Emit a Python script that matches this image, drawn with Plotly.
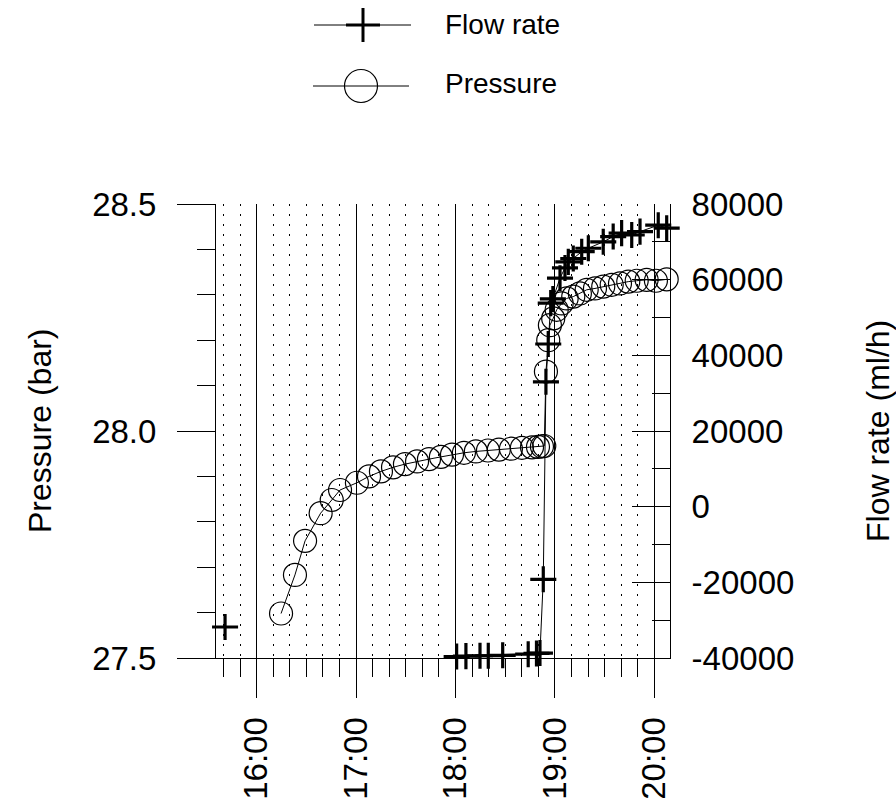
import plotly.graph_objects as go

DAY = "2020-01-01 "

# Flow rate (ml/h) readings; None marks a gap in the connecting line
flow_time = ["15:40:54", None,
             "18:00:42", "18:06:18", "18:14:48", "18:19:48", "18:28:30", "18:43:54",
             "18:48:54", "18:51:00", "18:53:00", "18:54:36", "18:56:00", "18:57:30",
             "18:58:48", "19:03:06", "19:06:06", "19:08:06", "19:11:06", "19:16:12",
             "19:20:12", "19:29:12", "19:35:12", "19:40:18", "19:46:24", "19:51:24",
             "20:02:24", "20:07:30"]
flow_value = [-31800, None,
              -39600, -39500, -39400, -39400, -39300, -39000,
              -38800, -38700, -19200, 33000, 43000, 53800,
              54900, 60400, 63100, 64700, 65600, 67400,
              68300, 70000, 71400, 72300, 71800, 72700,
              74400, 73600]

# Pressure (bar) readings
pressure_time = ["16:14:42", "16:23:06", "16:29:12", "16:38:36", "16:45:18", "16:50:18",
                 "17:00:30", "17:07:48", "17:15:00", "17:22:18", "17:29:30", "17:36:48",
                 "17:44:00", "17:51:12", "17:57:54", "18:05:06", "18:12:18", "18:19:36",
                 "18:26:12", "18:33:30", "18:40:06", "18:46:12", "18:49:48", "18:52:12",
                 "18:53:36", "18:54:36", "18:56:00", "18:57:00", "18:59:00", "19:01:06",
                 "19:04:06", "19:07:06", "19:11:06", "19:15:06", "19:19:12", "19:24:12",
                 "19:29:12", "19:34:18", "19:39:18", "19:44:18", "19:49:24", "19:55:24",
                 "20:01:00", "20:07:30"]
pressure_value = [27.598, 27.683, 27.758, 27.819, 27.848, 27.870,
                  27.886, 27.900, 27.911, 27.920, 27.927, 27.933,
                  27.938, 27.943, 27.948, 27.952, 27.955, 27.957,
                  27.959, 27.961, 27.963, 27.964, 27.965, 27.966,
                  27.967, 28.131, 28.200, 28.233, 28.248, 28.267,
                  28.281, 28.292, 28.296, 28.303, 28.311, 28.314,
                  28.318, 28.322, 28.325, 28.329, 28.331, 28.333,
                  28.331, 28.334]

pressure_ticks = [27.5, 28.0, 28.5]
pressure_ticktext = ["27.5", "28.0", "28.5"]
flow_ticks = [-40000, -20000, 0, 20000, 40000, 60000, 80000]
flow_ticktext = ["-40000", "-20000", "0", "20000", "40000", "60000", "80000"]

legend_labels = ["Flow rate", "Pressure"]

FONT = "Liberation Sans, Arial, sans-serif"
W, H = 896, 807
L, R, T, B = 216, 226, 204, 149
PW, PH = W - L - R, H - T - B


def px_x(px):
    return (px - L) / PW


def px_y(py):
    return (H - B - py) / PH


fig = go.Figure()

fig.add_trace(go.Scatter(
    x=[DAY + t for t in pressure_time], y=pressure_value,
    mode="lines+markers", name=legend_labels[1],
    line=dict(color="black", width=1),
    marker=dict(symbol="circle-open", size=23, color="black", line=dict(width=1.2, color="black")),
    cliponaxis=False,
))

fig.add_trace(go.Scatter(
    x=[DAY + t if t else None for t in flow_time], y=flow_value,
    mode="lines+markers", name=legend_labels[0], yaxis="y2",
    line=dict(color="black", width=1),
    marker=dict(symbol="cross-thin", size=18.6, color="black", line=dict(width=3.2, color="black")),
    connectgaps=False, cliponaxis=False,
))

fig.update_layout(
    width=W, height=H,
    margin=dict(l=L, r=R, t=T, b=B, pad=0, autoexpand=False),
    paper_bgcolor="white", plot_bgcolor="white",
    showlegend=False,
    font=dict(family=FONT, color="black", size=32),
    xaxis=dict(
        type="date", automargin=False,
        range=[DAY + "15:35:26", DAY + "20:09:30"],
        tickmode="linear", tick0=DAY + "00:00:00", dtick=3600000,
        tickformat="%H:%M", tickangle=-90,
        ticks="outside", ticklen=39, tickwidth=1, tickcolor="black",
        ticklabelstandoff=6,
        showgrid=True, gridcolor="black", gridwidth=1,
        showline=True, linecolor="black", linewidth=1, mirror=False,
        zeroline=False,
        tickfont=dict(size=33, family=FONT, color="black"),
        minor=dict(tick0=DAY + "00:00:00", dtick=600000, ticks="outside", ticklen=18,
                   tickwidth=1, tickcolor="black", showgrid=True, gridcolor="black",
                   gridwidth=1, griddash="2px,8px"),
    ),
    yaxis=dict(
        range=[27.5, 28.5], automargin=False,
        tickmode="array", tickvals=pressure_ticks, ticktext=pressure_ticktext,
        ticks="outside", ticklen=38, tickwidth=1, tickcolor="black",
        ticklabelstandoff=14,
        showgrid=False, showline=True, linecolor="black", linewidth=1, zeroline=False,
        tickfont=dict(size=33, family=FONT, color="black"),
        minor=dict(tick0=27.5, dtick=0.1, ticks="outside", ticklen=18, tickwidth=1,
                   tickcolor="black", showgrid=False),
    ),
    yaxis2=dict(
        overlaying="y", side="right", anchor="x", automargin=False,
        range=[-40000, 80000],
        tickmode="array", tickvals=flow_ticks, ticktext=flow_ticktext,
        ticks="inside", ticklen=38, tickwidth=1, tickcolor="black",
        ticklabelstandoff=14,
        showgrid=False, showline=True, linecolor="black", linewidth=1, zeroline=False,
        tickfont=dict(size=33, family=FONT, color="black"),
        minor=dict(tick0=0, dtick=10000, ticks="inside", ticklen=18, tickwidth=1,
                   tickcolor="black", showgrid=False),
    ),
)

# axis titles
fig.add_annotation(text="Pressure (bar)", xref="paper", yref="paper",
                   x=px_x(40), y=0.5, textangle=-90, showarrow=False,
                   xanchor="center", yanchor="middle",
                   font=dict(size=32, family=FONT, color="black"))
fig.add_annotation(text="Flow rate (ml/h)", xref="paper", yref="paper",
                   x=px_x(878), y=0.5, textangle=-90, showarrow=False,
                   xanchor="center", yanchor="middle",
                   font=dict(size=32, family=FONT, color="black"))

# custom legend (drawn above the plot)
shapes = []
# Flow rate row
shapes.append(dict(type="line", xref="paper", yref="paper",
                   x0=px_x(314), x1=px_x(411), y0=px_y(25), y1=px_y(25),
                   line=dict(color="black", width=1)))
shapes.append(dict(type="line", xref="paper", yref="paper",
                   x0=px_x(346), x1=px_x(380), y0=px_y(25), y1=px_y(25),
                   line=dict(color="black", width=3)))
shapes.append(dict(type="line", xref="paper", yref="paper",
                   x0=px_x(363), x1=px_x(363), y0=px_y(8), y1=px_y(42),
                   line=dict(color="black", width=3)))
# Pressure row
shapes.append(dict(type="line", xref="paper", yref="paper",
                   x0=px_x(313), x1=px_x(409), y0=px_y(86), y1=px_y(86),
                   line=dict(color="black", width=1)))
shapes.append(dict(type="circle", xref="paper", yref="paper",
                   x0=px_x(361 - 16.5), x1=px_x(361 + 16.5),
                   y0=px_y(86 + 16.5), y1=px_y(86 - 16.5),
                   line=dict(color="black", width=1.2), fillcolor="rgba(0,0,0,0)"))
fig.update_layout(shapes=shapes)

fig.add_annotation(text=legend_labels[0], xref="paper", yref="paper",
                   x=px_x(443), y=px_y(25), showarrow=False,
                   xanchor="left", yanchor="middle",
                   font=dict(size=28, family=FONT, color="black"))
fig.add_annotation(text=legend_labels[1], xref="paper", yref="paper",
                   x=px_x(443), y=px_y(84), showarrow=False,
                   xanchor="left", yanchor="middle",
                   font=dict(size=28, family=FONT, color="black"))

fig.write_html("out.html")
